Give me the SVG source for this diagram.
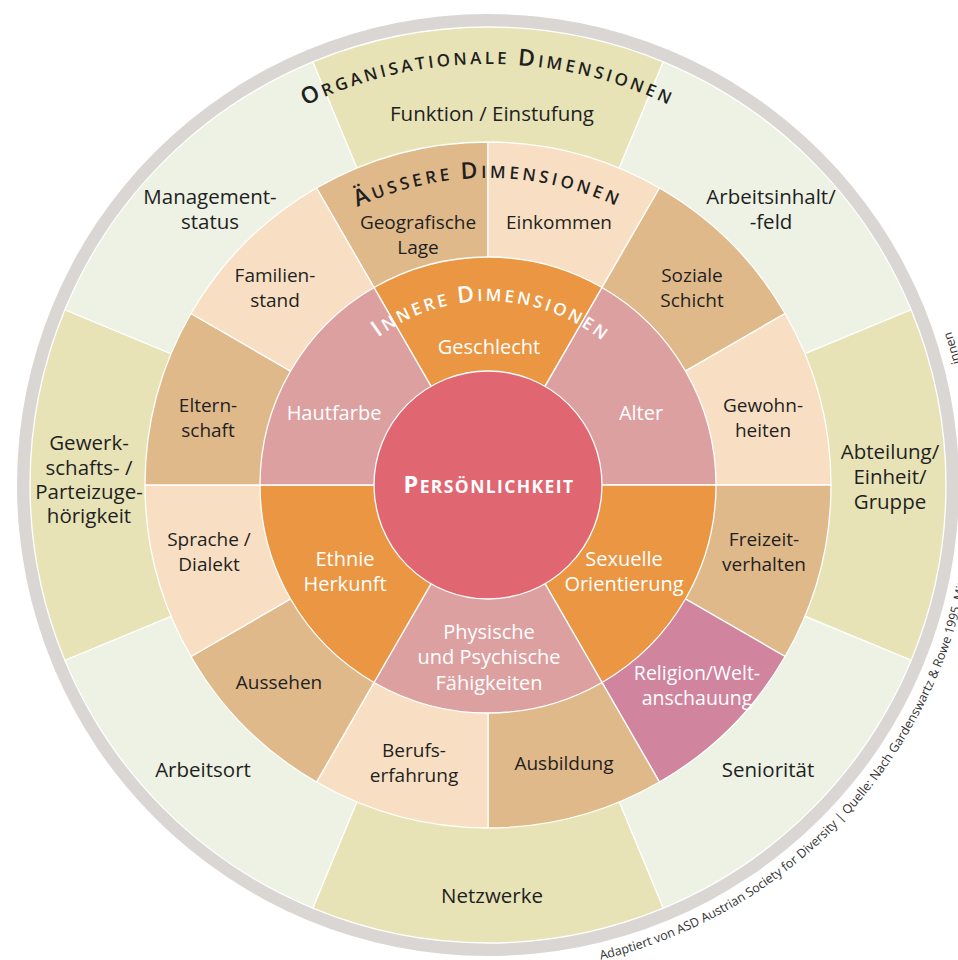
<svg xmlns="http://www.w3.org/2000/svg" width="958" height="960" viewBox="0 0 958 960">
<style>
.seg{stroke:#fff;stroke-width:1.3;stroke-linejoin:round}
.yel{fill:#e7e3b6}.grn{fill:#edf2e4}.tan{fill:#dfb98a}.pea{fill:#f8dfc4}.rel{fill:#d0849e}
.pnk{fill:#dda0a0}.org{fill:#eb9642}.ctr{fill:#e06772}
.lbl{font-family:"Open Sans","Liberation Sans",sans-serif;font-size:19px;fill:#1f1f1f;text-anchor:middle}
.o{font-size:20.5px}
.wl{fill:#fff;font-size:20px}
.title{font-family:"Open Sans","Liberation Sans",sans-serif;font-weight:600;fill:#1f1f1f}
.wt{fill:#fff}
.big{font-size:23px}.sm{font-size:17px}
.pers{font-family:"Open Sans","Liberation Sans",sans-serif;font-weight:700;fill:#fff;text-anchor:middle;letter-spacing:1.4px}
.credit{font-family:"Open Sans","Liberation Sans",sans-serif;font-size:12.5px;fill:#333}
</style>
<defs>
<path id="pOrg" d="M123.4,274.5 A421,421 0 0 1 852.6,274.5"/>
<path id="pAus" d="M222.1,331.5 A307,307 0 0 1 753.9,331.5"/>
<path id="pInn" d="M328.7,393 A184,184 0 0 1 647.3,393"/>
<path id="pCred" d="M597.8,960.5 A488,488 0 0 0 614.3,13.6"/>
</defs>
<circle id="rim" cx="488" cy="485" r="471" fill="#dad6d3"/>
<g id="funktion"><path class="seg yel" d="M488,485 L312.73,61.86 A458,458 0 0 1 663.27,61.86 Z"/><text class="lbl o" x="492" y="121">Funktion / Einstufung</text></g>
<g id="arbeitsinhalt"><path class="seg grn" d="M488,485 L663.27,61.86 A458,458 0 0 1 911.14,309.73 Z"/><text class="lbl o"><tspan x="771" y="204">Arbeitsinhalt/</tspan><tspan x="771" y="229">-feld</tspan></text></g>
<g id="abteilung"><path class="seg yel" d="M488,485 L911.14,309.73 A458,458 0 0 1 911.14,660.27 Z"/><text class="lbl o"><tspan x="890" y="459">Abteilung/</tspan><tspan x="890" y="484">Einheit/</tspan><tspan x="890" y="509">Gruppe</tspan></text></g>
<g id="senioritaet"><path class="seg grn" d="M488,485 L911.14,660.27 A458,458 0 0 1 663.27,908.14 Z"/><text class="lbl o" x="768" y="777">Seniorität</text></g>
<g id="netzwerke"><path class="seg yel" d="M488,485 L663.27,908.14 A458,458 0 0 1 312.73,908.14 Z"/><text class="lbl o" x="492" y="903">Netzwerke</text></g>
<g id="arbeitsort"><path class="seg grn" d="M488,485 L312.73,908.14 A458,458 0 0 1 64.86,660.27 Z"/><text class="lbl o" x="203" y="777">Arbeitsort</text></g>
<g id="gewerkschaft"><path class="seg yel" d="M488,485 L64.86,660.27 A458,458 0 0 1 64.86,309.73 Z"/><text class="lbl o"><tspan x="89" y="450">Gewerk-</tspan><tspan x="89" y="475">schafts- /</tspan><tspan x="89" y="499">Parteizuge-</tspan><tspan x="89" y="523">hörigkeit</tspan></text></g>
<g id="management"><path class="seg grn" d="M488,485 L64.86,309.73 A458,458 0 0 1 312.73,61.86 Z"/><text class="lbl o"><tspan x="210" y="204">Management-</tspan><tspan x="210" y="229">status</tspan></text></g>

<g id="geografische"><path class="seg tan" d="M488,485 L316.5,187.95 A343,343 0 0 1 488,142 Z"/><text class="lbl"><tspan x="418" y="229">Geografische</tspan><tspan x="418" y="254">Lage</tspan></text></g>
<g id="einkommen"><path class="seg pea" d="M488,485 L488,142 A343,343 0 0 1 659.5,187.95 Z"/><text class="lbl" x="559" y="229">Einkommen</text></g>
<g id="soziale"><path class="seg tan" d="M488,485 L659.5,187.95 A343,343 0 0 1 785.05,313.5 Z"/><text class="lbl"><tspan x="692" y="282">Soziale</tspan><tspan x="692" y="307">Schicht</tspan></text></g>
<g id="gewohnheiten"><path class="seg pea" d="M488,485 L785.05,313.5 A343,343 0 0 1 831,485 Z"/><text class="lbl"><tspan x="763" y="412">Gewohn-</tspan><tspan x="763" y="437">heiten</tspan></text></g>
<g id="freizeit"><path class="seg tan" d="M488,485 L831,485 A343,343 0 0 1 785.05,656.5 Z"/><text class="lbl"><tspan x="764" y="546">Freizeit-</tspan><tspan x="764" y="571">verhalten</tspan></text></g>
<g id="religion"><path class="seg rel" d="M488,485 L785.05,656.5 A343,343 0 0 1 659.5,782.05 Z"/><text class="lbl wl" style="font-size:19.5px"><tspan x="697" y="680">Religion/Welt-</tspan><tspan x="697" y="705">anschauung</tspan></text></g>
<g id="ausbildung"><path class="seg tan" d="M488,485 L659.5,782.05 A343,343 0 0 1 488,828 Z"/><text class="lbl" x="564" y="770">Ausbildung</text></g>
<g id="berufs"><path class="seg pea" d="M488,485 L488,828 A343,343 0 0 1 316.5,782.05 Z"/><text class="lbl"><tspan x="414" y="757">Berufs-</tspan><tspan x="414" y="782">erfahrung</tspan></text></g>
<g id="aussehen"><path class="seg tan" d="M488,485 L316.5,782.05 A343,343 0 0 1 190.95,656.5 Z"/><text class="lbl" x="279" y="689">Aussehen</text></g>
<g id="sprache"><path class="seg pea" d="M488,485 L190.95,656.5 A343,343 0 0 1 145,485 Z"/><text class="lbl"><tspan x="209" y="546">Sprache /</tspan><tspan x="209" y="571">Dialekt</tspan></text></g>
<g id="elternschaft"><path class="seg tan" d="M488,485 L145,485 A343,343 0 0 1 190.95,313.5 Z"/><text class="lbl"><tspan x="208" y="412">Eltern-</tspan><tspan x="208" y="437">schaft</tspan></text></g>
<g id="familienstand"><path class="seg pea" d="M488,485 L190.95,313.5 A343,343 0 0 1 316.5,187.95 Z"/><text class="lbl"><tspan x="275" y="282">Familien-</tspan><tspan x="275" y="307">stand</tspan></text></g>

<g id="geschlecht"><path class="seg org" d="M488,485 L374,287.55 A228,228 0 0 1 602,287.55 Z"/><text class="lbl wl" x="489" y="354">Geschlecht</text></g>
<g id="alter"><path class="seg pnk" d="M488,485 L602,287.55 A228,228 0 0 1 716,485 Z"/><text class="lbl wl" x="641" y="420">Alter</text></g>
<g id="sexuelle"><path class="seg org" d="M488,485 L716,485 A228,228 0 0 1 602,682.45 Z"/><text class="lbl wl"><tspan x="624" y="566">Sexuelle</tspan><tspan x="624" y="591">Orientierung</tspan></text></g>
<g id="physische"><path class="seg pnk" d="M488,485 L602,682.45 A228,228 0 0 1 374,682.45 Z"/><text class="lbl wl"><tspan x="489" y="639">Physische</tspan><tspan x="489" y="664">und Psychische</tspan><tspan x="489" y="690">Fähigkeiten</tspan></text></g>
<g id="ethnie"><path class="seg org" d="M488,485 L374,682.45 A228,228 0 0 1 260,485 Z"/><text class="lbl wl"><tspan x="345" y="566">Ethnie</tspan><tspan x="345" y="591">Herkunft</tspan></text></g>
<g id="hautfarbe"><path class="seg pnk" d="M488,485 L260,485 A228,228 0 0 1 374,287.55 Z"/><text class="lbl wl" x="334" y="420">Hautfarbe</text></g>

<g id="persoenlichkeit"><circle class="seg ctr" cx="488" cy="485" r="114"/><text class="pers" x="489" y="493"><tspan font-size="23.5">P</tspan><tspan font-size="17.5">ERSÖNLICHKEIT</tspan></text></g>

<g id="titles">
<text class="title" letter-spacing="3.2"><textPath href="#pOrg" startOffset="50%" text-anchor="middle"><tspan class="big">O</tspan><tspan class="sm">RGANISATIONALE </tspan><tspan class="big">D</tspan><tspan class="sm">IMENSIONEN</tspan></textPath></text>
<text class="title" letter-spacing="3.4"><textPath href="#pAus" startOffset="50%" text-anchor="middle"><tspan class="big">Ä</tspan><tspan class="sm">USSERE </tspan><tspan class="big">D</tspan><tspan class="sm">IMENSIONEN</tspan></textPath></text>
<text class="title wt" letter-spacing="2.8"><textPath href="#pInn" startOffset="51%" text-anchor="middle"><tspan class="big">I</tspan><tspan class="sm">NNERE </tspan><tspan class="big">D</tspan><tspan class="sm">IMENSIONEN</tspan></textPath></text>
</g>
<g id="credits">
<text class="credit"><textPath href="#pCred" startOffset="3">Adaptiert von ASD Austrian Society for Diversity | Quelle: Nach Gardenswartz &amp; Rowe 1995, Mit</textPath></text>
<text class="credit"><textPath href="#pCred" startOffset="779">innen</textPath></text>
</g>
</svg>
